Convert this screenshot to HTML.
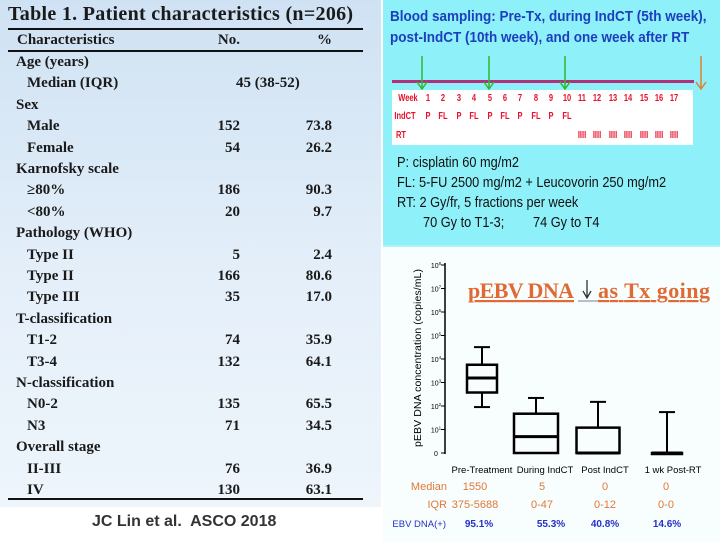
<!DOCTYPE html>
<html><head><meta charset="utf-8"><style>
body{margin:0;width:720px;height:540px;overflow:hidden;background:#fff;position:relative;font-family:"Liberation Sans",sans-serif}
.abs{position:absolute;white-space:nowrap}
#table{position:absolute;left:0;top:0;width:381px;height:507px;background:linear-gradient(#cfe2f3,#e6f0fa 60%,#eef5fb);font-family:"Liberation Serif",serif;font-weight:bold;color:#1a1a1a}
#table .r{position:absolute;font-size:15px;height:20px;line-height:20px}
.hl{position:absolute;left:8px;width:355px;height:1.5px;background:#111}
#top{position:absolute;left:383px;top:0;width:337px;height:245px;background:#8ef0f8;overflow:hidden}
#bot{position:absolute;left:383px;top:245px;width:337px;height:295px;background:#f8fefe;border-top:2px solid #aef4f8}
.wk{position:absolute;font-size:10px;font-weight:bold;color:#e8102a;transform:translateX(-50%) scaleX(0.75)}
.leg{position:absolute;font-size:14.5px;color:#111;left:14px;transform:scaleX(0.88);transform-origin:left}
</style></head><body>
<div id="table">
<div class="abs" style="left:8px;top:3px;font-size:20px;letter-spacing:0.3px">Table 1. Patient characteristics (n=206)</div>
<div class="hl" style="top:28px"></div>
<div class="hl" style="top:50px"></div>
<div class="hl" style="top:498px"></div>
<div id="rows"></div>
</div>
<div class="abs" style="left:92px;top:513px;font-size:16px;font-weight:bold;color:#333">JC Lin et al.&nbsp; ASCO 2018</div>

<div id="top">
<div class="abs" style="left:7px;top:6px;font-size:15px;font-weight:bold;color:#1d3fbf;line-height:21px;transform:scaleX(0.9);transform-origin:left">Blood sampling: Pre-Tx, during IndCT (5th week),<br>post-IndCT (10th week), and one week after RT</div>
<div style="position:absolute;left:9px;top:80px;width:302px;height:3px;background:#b0307a"></div>
<div style="position:absolute;left:9px;top:90px;width:301px;height:55px;background:#fff"></div>
<svg style="position:absolute;left:0;top:0" width="337" height="245">
<g stroke="#2fb82f" stroke-width="1.5" fill="none"><path d="M39 56V88M34 82L39 89L44 82"/><path d="M106 56V88M101 82L106 89L111 82"/><path d="M182 56V88M177 82L182 89L187 82"/></g>
<g stroke="#e08030" stroke-width="1.5" fill="none"><path d="M318 56V89M313 82L318 89L323 82"/></g>
</svg>
<div id="sched"></div>
<div class="leg" style="top:155px">P: cisplatin 60 mg/m2</div>
<div class="leg" style="top:175px">FL: 5-FU 2500 mg/m2 + Leucovorin 250 mg/m2</div>
<div class="leg" style="top:195px">RT: 2 Gy/fr, 5 fractions per week</div>
<div class="leg" style="top:215px;left:40px">70 Gy to T1-3;</div>
<div class="leg" style="top:215px;left:150px">74 Gy to T4</div>
</div>

<div id="bot">
<svg id="chart" style="position:absolute;left:-383px;top:-247px" width="720" height="540"></svg>
</div>

<script>
const rowLabels=[["Characteristics","No.","%",1],["Age (years)","","",0],["Median (IQR)","45 (38-52)","",1],["Sex","","",0],["Male","152","73.8",1],["Female","54","26.2",1],["Karnofsky scale","","",0],["≥80%","186","90.3",1],["<80%","20","9.7",1],["Pathology (WHO)","","",0],["Type II","5","2.4",1],["Type II","166","80.6",1],["Type III","35","17.0",1],["T-classification","","",0],["T1-2","74","35.9",1],["T3-4","132","64.1",1],["N-classification","","",0],["N0-2","135","65.5",1],["N3","71","34.5",1],["Overall stage","","",0],["II-III","76","36.9",1],["IV","130","63.1",1]];
const rows=document.getElementById('rows');
rowLabels.forEach((r,i)=>{
 const y=i==0?30:52+(i-1)*21.4;
 const d=document.createElement('div');d.className='r';d.style.top=y+'px';d.style.left=(i==0?17:(r[3]?27:16))+'px';d.textContent=r[0];
 
 
 rows.appendChild(d);
 if(r[1]){const n=document.createElement('div');n.className='r';n.style.top=y+'px';
  if(r[1].includes('(')){n.style.left='236px';}else{n.style.right=(381-240)+'px';}
  n.textContent=r[1];
  
  
  rows.appendChild(n);}
 if(r[2]){const p=document.createElement('div');p.className='r';p.style.top=y+'px';p.style.right=(381-332)+'px';p.textContent=r[2];
  
  
  rows.appendChild(p);}
});
const sched=document.getElementById('sched');
const weeks=["1","2","3","4","5","6","7","8","9","10","11","12","13","14","15","16","17"];
const indct=["P","FL","P","FL","P","FL","P","FL","P","FL"];
function wk(x,y,t,nm){const e=document.createElement('div');e.className='wk';e.style.left=x+'px';e.style.top=y+'px';e.textContent=t;
 
 
 sched.appendChild(e);}
wk(25,93,"Week","week-header");wk(22,111,"IndCT","indct-header");wk(18,130,"RT","rt-header");
weeks.forEach((w,i)=>{const x=45+i*15.4;wk(x,93,w,'week-number');if(i<10)wk(x,111,indct[i],'indct-drug');if(i>=10)wk(x,130,"IIII",'rt-fractions');});

const categories=["Pre-Treatment","During IndCT","Post IndCT","1 wk Post-RT"];
const whiskerLow=[90,0,0,0];
const q1=[375,0,0,0];
const medians=[1550,5,0,0];
const q3=[5688,47,12,0];
const whiskerHigh=[32000,220,150,55];
const medianText=["1550","5","0","0"];
const iqrText=["375-5688","0-47","0-12","0-0"];
const posText=["95.1%","55.3%","40.8%","14.6%"];
const yTicks=[0,1,2,3,4,5,6,7,8];
const svg=document.getElementById('chart');const NS='http://www.w3.org/2000/svg';
const y0=453,dec=23.5,axX=445;
function ys(v){return v<=1?y0:y0-dec*Math.log10(v);}
const cx=[482,536,598,667],bw=[30,44,43,30];
const labX=[482,545,605,673],valX=[475,542,605,666],pctX=[479,551,605,667];
function el(t,a,txt){const e=document.createElementNS(NS,t);for(const k in a)e.setAttribute(k,a[k]);if(txt!==undefined)e.textContent=txt;svg.appendChild(e);return e;}
let ax=el('line',{x1:axX,y1:263,x2:axX,y2:454,stroke:'#000','stroke-width':1.5});


yTicks.forEach(k=>{const y=k==0?y0:ys(Math.pow(10,k));
 const t=el('line',{x1:axX-4,y1:y,x2:axX,y2:y,stroke:'#000'});
 
 
 const tx=el('text',{x:axX-9,y:y+3,'font-size':7,'text-anchor':'middle','font-family':'Liberation Sans'},k==0?'0':'10');
 
 
 if(k>0){const s=el('tspan',{dy:-3,'font-size':4.5},String(k));tx.appendChild(s);}
});
const yt=el('text',{x:0,y:0,transform:'translate(421,358) rotate(-90)','font-size':10.5,'text-anchor':'middle','font-family':'Liberation Sans',textLength:178},'pEBV DNA concentration (copies/mL)');


categories.forEach((c,i)=>{
 const x=cx[i],w=bw[i];
 const wh=el('line',{x1:x,y1:ys(whiskerHigh[i]),x2:x,y2:ys(q3[i]),stroke:'#000','stroke-width':2});
 
 
 const cap=el('line',{x1:x-8,y1:ys(whiskerHigh[i]),x2:x+8,y2:ys(whiskerHigh[i]),stroke:'#000','stroke-width':2});
 
 
 if(whiskerLow[i]>1){
  const wl=el('line',{x1:x,y1:ys(q1[i]),x2:x,y2:ys(whiskerLow[i]),stroke:'#000','stroke-width':2});
  
  
  const c2=el('line',{x1:x-8,y1:ys(whiskerLow[i]),x2:x+8,y2:ys(whiskerLow[i]),stroke:'#000','stroke-width':2});
  
  
 }
 const top=ys(q3[i]),bot=ys(q1[i]);
 const b=el('rect',{x:x-w/2,y:top,width:w,height:Math.max(bot-top,1),fill:'none',stroke:'#000','stroke-width':2.5});
 
 
 const m=el('line',{x1:x-w/2,y1:ys(medians[i]),x2:x+w/2,y2:ys(medians[i]),stroke:'#000','stroke-width':3});
 
 
 const cl=el('text',{x:labX[i],y:473,'font-size':9.5,'text-anchor':'middle'},c);
 
 
 const mt=el('text',{x:valX[i],y:490,'font-size':11,'text-anchor':'middle',fill:'#e07838'},medianText[i]);
 
 
 const it=el('text',{x:valX[i],y:508,'font-size':11,'text-anchor':'middle',fill:'#e07838'},iqrText[i]);
 
 
 const pt=el('text',{x:pctX[i],y:527,'font-size':10,'text-anchor':'middle',fill:'#2430c8','font-weight':'bold'},posText[i]);
 
 
});
[['Median',447,490,'#e07838'],['IQR',447,508,'#e07838'],['EBV DNA(+)',446,527,'#2430c8']].forEach(r=>{
 const t=el('text',{x:r[1],y:r[2],'font-size':r[0]=='EBV DNA(+)'?9.5:11,'text-anchor':'end',fill:r[3]},r[0]);
 
 
});
const ti=el('text',{x:468,y:298,'font-size':22,'font-family':'Liberation Serif','font-weight':'bold',fill:'#e06a35','text-decoration':'underline',textLength:106},'pEBV DNA');


const ti2=el('text',{x:598,y:298,'font-size':22,'font-family':'Liberation Serif','font-weight':'bold',fill:'#e06a35','text-decoration':'underline',textLength:112},'as Tx going');


const ar=el('path',{d:'M587 280V297M583 291L587 298L591 291',stroke:'#333','stroke-width':1.3,fill:'none'});


el('line',{x1:578,y1:301,x2:598,y2:301,stroke:'#557','stroke-width':0.8});
</script>
</body></html>
